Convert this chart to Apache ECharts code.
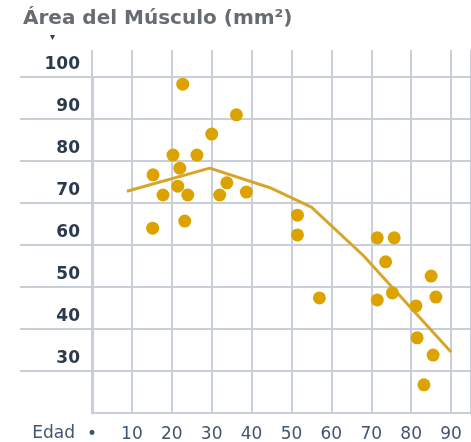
<!DOCTYPE html>
<html>
<head>
<meta charset="utf-8">
<script src="https://cdn.jsdelivr.net/npm/echarts@6/dist/echarts.min.js"></script>
<style>
  html, body { margin: 0; padding: 0; background: #fff; }
  #chart { width: 471px; height: 442px; }
</style>
</head>
<body>
<div id="chart"></div>
<script>
// edad (años) y área del músculo (mm²) de cada punto
var edades = [22.75, 36.2, 30, 20.3, 26.3, 22, 15.3, 21.5, 17.8, 24, 32, 33.8, 38.7, 23.25, 15.2,
  51.5, 51.5, 57, 71.5, 75.75, 73.6, 71.5, 75.3, 81.2, 85, 86.2, 81.5, 85.5, 83.2];
var areas = [98.3, 91.0, 86.4, 81.4, 81.4, 78.3, 76.7, 74.0, 71.9, 71.9, 71.9, 74.8, 72.6, 65.7, 64.0,
  67.1, 62.4, 47.4, 61.7, 61.7, 56.0, 46.9, 48.6, 45.5, 52.6, 47.6, 37.9, 33.8, 26.7];

// línea de tendencia
var tendEdad = [8.75, 29.5, 45, 55, 68, 90];
var tendArea = [72.8, 78.3, 73.5, 69, 57.5, 34.5];

var gris = '#c9cfd8';

var puntos = edades.map(function (e, i) { return [e, areas[i]]; });
var tendencia = tendEdad.map(function (e, i) { return [e, tendArea[i]]; });

var myChart = echarts.init(document.getElementById('chart'));
var option = {
  backgroundColor: '#fff',
  animation: false,
  title: {
    text: 'Área del Músculo (mm²)',
    left: 18,
    top: 4,
    textStyle: { fontFamily: 'DejaVu Sans', fontSize: 20, fontWeight: 'bold', color: '#676c73' }
  },
  graphic: [{
    type: 'text', left: 50, top: 32,
    style: { text: '▾', fontSize: 10, fill: '#34404e' }
  }],
  grid: { left: 92, top: 77, right: 0, bottom: 29, outerBoundsMode: 'none' },
  xAxis: [{
    type: 'value', min: 0, max: 95, interval: 10,
    name: 'Edad', nameLocation: 'start', nameGap: 17,
    nameTextStyle: { fontFamily: 'DejaVu Sans', fontSize: 17, color: '#3f5570', verticalAlign: 'top', lineHeight: 42 },
    axisLine: { show: true, onZero: false, lineStyle: { color: gris, width: 2 } },
    axisTick: { show: false },
    axisLabel: {
      showMaxLabel: false, margin: 13,
      fontFamily: 'DejaVu Sans', fontSize: 17, color: '#3f5570',
      formatter: function (v) { return v === 0 ? '•' : v; }
    },
    splitLine: { show: true, lineStyle: { color: gris, width: 2 } }
  }, {
    type: 'value', min: 0, max: 95, interval: 10, position: 'top',
    axisLine: { show: false },
    axisLabel: { show: false },
    axisTick: { show: true, length: 27, lineStyle: { color: gris, width: 2 } },
    splitLine: { show: false }
  }],
  yAxis: [{
    type: 'value', min: 20, max: 100, interval: 10,
    axisLine: { show: true, onZero: false, lineStyle: { color: gris, width: 3 } },
    axisTick: { show: true, inside: false, length: 72, lineStyle: { color: gris, width: 2 } },
    axisLabel: {
      showMinLabel: false, margin: 12,
      fontFamily: 'DejaVu Sans', fontSize: 17, fontWeight: 'bold', color: '#2b3a4c',
      verticalAlign: 'bottom', lineHeight: 25
    },
    splitLine: { show: true, lineStyle: { color: gris, width: 2 } }
  }],
  series: [{
    type: 'line',
    data: tendencia,
    symbol: 'none',
    lineStyle: { color: '#d6a52c', width: 3 },
    z: 2
  }, {
    type: 'scatter',
    data: puntos,
    symbolSize: 13,
    itemStyle: { color: '#dca300', opacity: 1 },
    z: 3
  }]
};
myChart.setOption(option);
</script>
</body>
</html>
